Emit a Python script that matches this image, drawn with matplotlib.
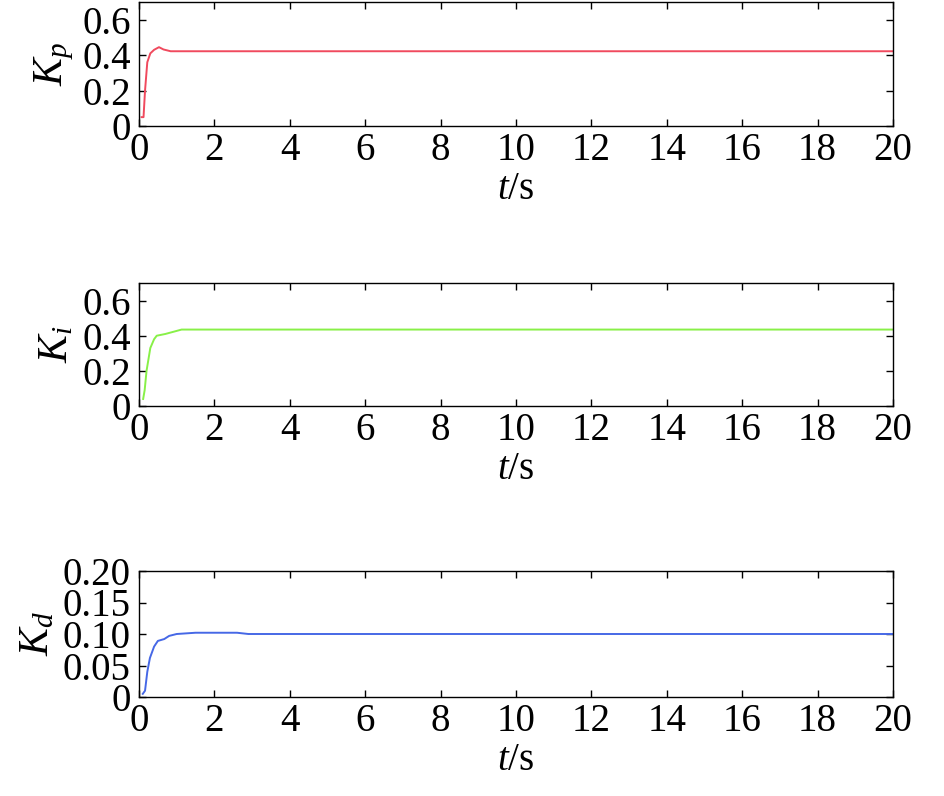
import matplotlib
matplotlib.use("Agg")
import matplotlib.pyplot as plt

plt.rcParams['font.family'] = ['Liberation Serif', 'DejaVu Serif']
plt.rcParams['mathtext.fontset'] = 'custom'
plt.rcParams['mathtext.rm'] = 'Liberation Serif'
plt.rcParams['mathtext.it'] = 'Liberation Serif:italic'

# Kp curve
t_kp = [0.07, 0.12, 0.16, 0.22, 0.30, 0.40, 0.53, 0.65, 0.84, 1.2, 20.0]
kp = [0.05, 0.05, 0.20, 0.36, 0.41, 0.43, 0.445, 0.432, 0.422, 0.422, 0.422]

# Ki curve
t_ki = [0.11, 0.15, 0.20, 0.30, 0.40, 0.47, 0.70, 1.13, 20.0]
ki = [0.04, 0.09, 0.20, 0.33, 0.38, 0.40, 0.41, 0.435, 0.435]

# Kd curve
t_kd = [0.10, 0.16, 0.22, 0.29, 0.40, 0.50, 0.67, 0.80, 1.0, 1.5, 2.6, 2.9, 20.0]
kd = [0.005, 0.010, 0.040, 0.062, 0.080, 0.089, 0.092, 0.097, 0.100, 0.102, 0.102, 0.100, 0.100]

ylabels = [r'$K_p$', r'$K_i$', r'$K_d$']
colors = ['#f04a5e', '#88f048', '#4668e6']
yticks_list = [[0, 0.2, 0.4, 0.6], [0, 0.2, 0.4, 0.6], [0, 0.05, 0.10, 0.15, 0.20]]
yticklabels_list = [['0', '0.2', '0.4', '0.6'], ['0', '0.2', '0.4', '0.6'],
                    ['0', '0.05', '0.10', '0.15', '0.20']]
ylims = [(0, 0.7), (0, 0.7), (0, 0.2)]
xticks = list(range(0, 21, 2))

W, H = 945, 796
fig = plt.figure(figsize=(W / 100, H / 100), dpi=100)

boxes = [(139, 2, 893, 126), (139, 283, 893, 406), (139, 571, 893, 697)]
data = [(t_kp, kp), (t_ki, ki), (t_kd, kd)]

for i, (box, (tx, yv)) in enumerate(zip(boxes, data)):
    l, t, r, b = box
    ax = fig.add_axes([l / W, 1 - b / H, (r - l) / W, (b - t) / H])
    ax.plot(tx, yv, color=colors[i], lw=1.4)
    ax.set_xlim(0, 20)
    ax.set_ylim(*ylims[i])
    ax.set_xticks(xticks)
    ax.set_xticklabels([str(x) for x in xticks])
    ax.set_yticks(yticks_list[i])
    ax.set_yticklabels(yticklabels_list[i])
    ax.tick_params(direction='in', length=5, width=1, labelsize=28, pad=4,
                   top=True, right=True)
    ax.tick_params(axis='y', pad=6)
    for s in ax.spines.values():
        s.set_linewidth(1.0)
    ax.set_xlabel(r'$t$/s', fontsize=28, labelpad=2)
    ax.set_ylabel(ylabels[i], fontsize=30, labelpad=4)

fig.savefig('out.png', dpi=100)
